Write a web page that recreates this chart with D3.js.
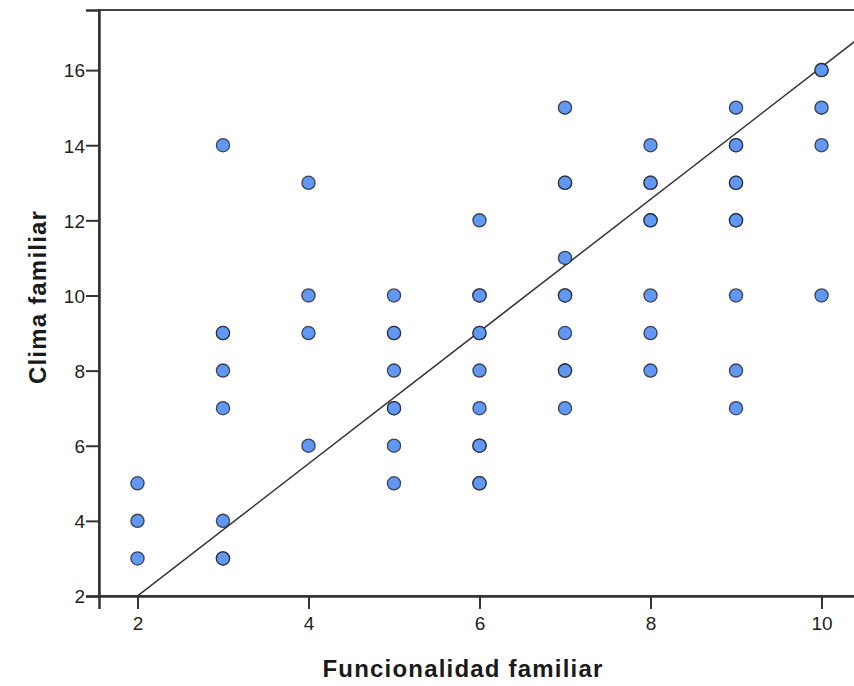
<!DOCTYPE html>
<html>
<head>
<meta charset="utf-8">
<script src="https://cdn.jsdelivr.net/npm/d3@7/dist/d3.min.js"></script>
<style>
  html, body { margin: 0; padding: 0; background: #fff; }
  svg { display: block; }
  .tick text { font-family: "Liberation Sans", Arial, sans-serif; }
</style>
</head>
<body>
<svg id="chart" width="854" height="686"></svg>
<script>
// Funcionalidad familiar (x) vs. Clima familiar (y); repeated pairs are listed twice
const funcionalidad = [
  2, 2, 2,
  3, 3, 3, 3, 3, 3, 3, 3,
  4, 4, 4, 4,
  5, 5, 5, 5, 5, 5, 5, 5,
  6, 6, 6, 6, 6, 6, 6, 6, 6, 6, 6,
  7, 7, 7, 7, 7, 7, 7, 7, 7, 7,
  8, 8, 8, 8, 8, 8, 8, 8,
  9, 9, 9, 9, 9, 9, 9, 9, 9, 9,
  10, 10, 10, 10, 10
];
const clima = [
  5, 4, 3,
  14, 9, 9, 8, 7, 4, 3, 3,
  13, 10, 9, 6,
  10, 9, 9, 8, 7, 7, 6, 5,
  12, 10, 10, 9, 9, 8, 7, 6, 6, 5, 5,
  15, 13, 13, 11, 10, 10, 9, 8, 8, 7,
  14, 13, 13, 12, 12, 10, 9, 8,
  15, 14, 14, 13, 13, 12, 12, 10, 8, 7,
  16, 16, 15, 14, 10
];
const xTicks = [2, 4, 6, 8, 10];
const yTicks = [2, 4, 6, 8, 10, 12, 14, 16];
// Linear fit line
const fitSlope = 1.76;
const fitIntercept = -1.52;

const xTitle = "Funcionalidad familiar";
const yTitle = "Clima familiar";

const svg = d3.select("#chart");
const mLeft = 99, mRight = 860, mTop = 10, mBottom = 596;

const x = d3.scaleLinear().domain([1.55, 10.45]).range([mLeft, mRight]);
const y = d3.scaleLinear().domain([2, 17.6]).range([mBottom, mTop]);

svg.append("defs").append("clipPath").attr("id", "plotClip")
  .append("rect").attr("x", mLeft).attr("y", mTop)
  .attr("width", mRight - mLeft).attr("height", mBottom - mTop);

// frame
svg.append("rect")
  .attr("x", mLeft).attr("y", mTop)
  .attr("width", mRight - mLeft).attr("height", mBottom - mTop)
  .attr("fill", "#fff").attr("stroke", "#444").attr("stroke-width", 2);

// axes
const xAxis = d3.axisBottom(x).tickValues(xTicks).tickSize(13).tickPadding(8).tickFormat(d3.format("d"));
const yAxis = d3.axisLeft(y).tickValues(yTicks).tickSize(13).tickPadding(1).tickFormat(d3.format("d"));

const gx = svg.append("g").attr("transform", `translate(0,${mBottom})`).call(xAxis);
const gy = svg.append("g").attr("transform", `translate(${mLeft},0)`).call(yAxis);
[gx, gy].forEach(g => {
  g.select(".domain").attr("stroke", "#333").attr("stroke-width", 2.5);
  g.selectAll(".tick line").attr("stroke", "#333").attr("stroke-width", 2);
  g.selectAll(".tick text").attr("font-size", 19).attr("fill", "#222");
});
gy.selectAll(".tick text").attr("dy", "0.36em");

const plot = svg.append("g").attr("clip-path", "url(#plotClip)");

// fit line, drawn across the x range and clipped to the plot
const xs = x.domain();
plot.append("line")
  .attr("x1", x(xs[0])).attr("y1", y(fitIntercept + fitSlope * xs[0]))
  .attr("x2", x(xs[1])).attr("y2", y(fitIntercept + fitSlope * xs[1]))
  .attr("stroke", "#333").attr("stroke-width", 1.5);

// points
const pts = funcionalidad.map((v, i) => ({ fx: v, cy: clima[i] }));
plot.selectAll("circle.pt").data(pts).join("circle")
  .attr("class", "pt")
  .attr("cx", d => x(d.fx)).attr("cy", d => y(d.cy))
  .attr("r", 6.6)
  .attr("fill", "#6197f5")
  .attr("stroke", "#222").attr("stroke-width", 1.3).attr("stroke-opacity", 0.8);

// axis titles
svg.append("text")
  .attr("x", 463).attr("y", 677)
  .attr("text-anchor", "middle")
  .attr("font-family", "Liberation Sans, Arial, sans-serif")
  .attr("font-weight", "bold").attr("font-size", 24)
  .attr("letter-spacing", 1.2).attr("fill", "#1a1a1a")
  .text(xTitle);

svg.append("text")
  .attr("transform", "translate(46,297) rotate(-90)")
  .attr("text-anchor", "middle")
  .attr("font-family", "Liberation Sans, Arial, sans-serif")
  .attr("font-weight", "bold").attr("font-size", 24)
  .attr("letter-spacing", 1.2).attr("fill", "#1a1a1a")
  .text(yTitle);
</script>
</body>
</html>
